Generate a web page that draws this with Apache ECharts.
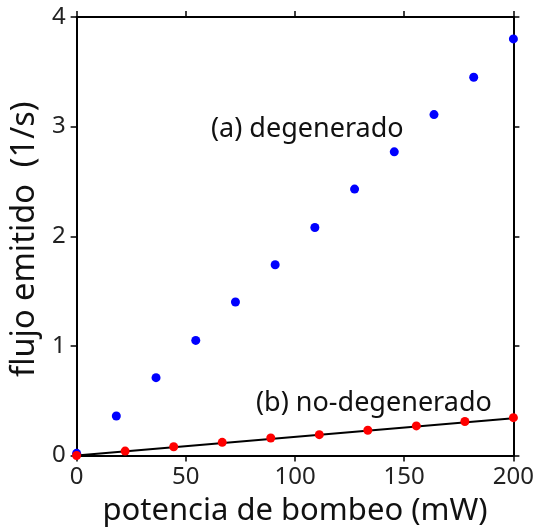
<!DOCTYPE html>
<html><head><meta charset="utf-8">
<script src="https://cdn.jsdelivr.net/npm/echarts@6/dist/echarts.min.js"></script>
<style>html,body{margin:0;padding:0;background:#fff}#c{width:537px;height:532px}</style>
</head><body><div id="c"></div>
<script>
var blueX = [0, 18.18, 36.36, 54.55, 72.73, 90.91, 109.09, 127.27, 145.45, 163.64, 181.82, 200];
var blueY = [0.02, 0.36, 0.71, 1.05, 1.40, 1.74, 2.08, 2.43, 2.77, 3.11, 3.45, 3.80];
var redX = [0, 22.22, 44.44, 66.67, 88.89, 111.11, 133.33, 155.56, 177.78, 200];
var redY = [0, 0.04, 0.08, 0.12, 0.16, 0.19, 0.23, 0.27, 0.31, 0.345];
var fitX = [0, 200];
var fitY = [0, 0.34];
var xTicks = [0, 50, 100, 150, 200];
var yTicks = [0, 1, 2, 3, 4];
var xTitle = 'potencia de bombeo (mW)';
var yTitle = 'flujo emitido  (1/s)';
var labelA = '(a) degenerado';
var labelB = '(b) no-degenerado';

function pairs(xs, ys){ return xs.map(function(x,i){return [x, ys[i]];}); }
var FONT = 'Noto Sans';
var chart = echarts.init(document.getElementById('c'), null, {renderer:'canvas'});
var axLine = {show:true, onZero:false, lineStyle:{color:'#000', width:2}};
var axTick = {show:true, inside:false, length:6, lineStyle:{color:'#000', width:1.5}};
chart.setOption({
  animation:false,
  grid:{left:76.5, right:23, top:17, bottom:76.5, containLabel:false},
  xAxis:[{
    type:'value', min:xTicks[0], max:xTicks[xTicks.length-1], interval:50,
    position:'bottom', axisLine:axLine, axisTick:axTick, splitLine:{show:false},
    axisLabel:{fontFamily:FONT, fontSize:24, color:'#222', margin:10},
    name:xTitle, nameLocation:'middle', nameGap:40,
    nameTextStyle:{fontFamily:FONT, fontSize:31, color:'#111'}
  },{
    type:'value', min:xTicks[0], max:xTicks[xTicks.length-1], interval:50,
    position:'top', axisLine:axLine, axisTick:axTick, splitLine:{show:false},
    axisLabel:{show:false}
  }],
  yAxis:[{
    type:'value', min:yTicks[0], max:yTicks[yTicks.length-1], interval:1,
    position:'left', axisLine:axLine, axisTick:axTick, splitLine:{show:false},
    axisLabel:{fontFamily:FONT, fontSize:24, color:'#222', margin:11},
    name:yTitle, nameLocation:'middle', nameGap:35, nameRotate:90,
    nameTextStyle:{fontFamily:FONT, fontSize:32.5, color:'#111', padding:[0,6,0,0]}
  },{
    type:'value', min:yTicks[0], max:yTicks[yTicks.length-1], interval:1,
    position:'right', axisLine:axLine, axisTick:axTick, splitLine:{show:false},
    axisLabel:{show:false}
  }],
  series:[
    {type:'line', data:pairs(fitX, fitY), symbol:'none', lineStyle:{color:'#000', width:2}, z:2},
    {type:'scatter', data:pairs(blueX, blueY), symbolSize:9, itemStyle:{color:'#0000ff', opacity:1}, z:3},
    {type:'scatter', data:pairs(redX, redY), symbolSize:9, itemStyle:{color:'#ff0000', opacity:1}, z:4}
  ],
  graphic:[
    {type:'text', x:211, y:129, style:{text:labelA, fontFamily:FONT, fontSize:27, fill:'#111', verticalAlign:'middle'}},
    {type:'text', x:256, y:403, style:{text:labelB, fontFamily:FONT, fontSize:27, fill:'#111', verticalAlign:'middle'}}
  ]
});
</script></body></html>
